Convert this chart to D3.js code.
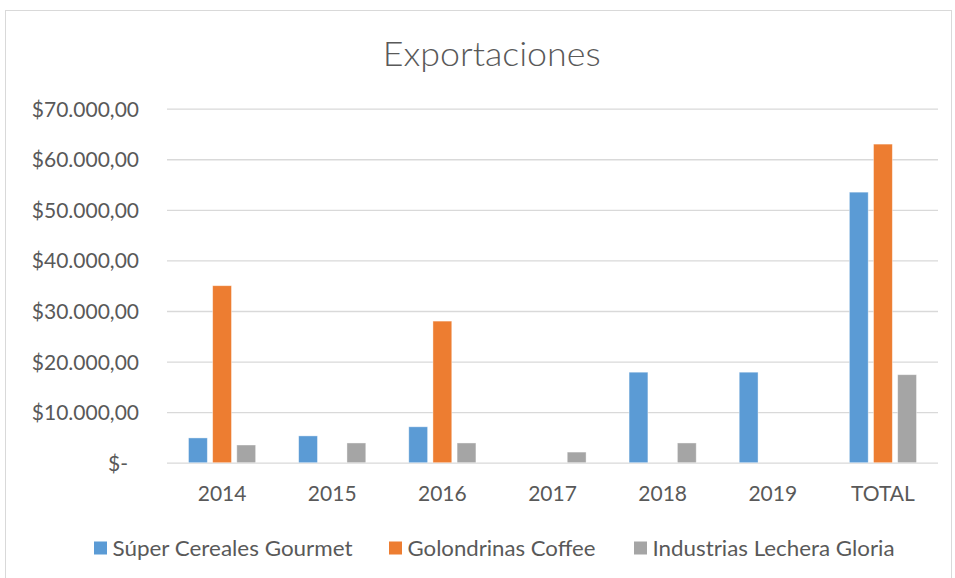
<!DOCTYPE html>
<html>
<head>
<meta charset="utf-8">
<script src="https://cdn.jsdelivr.net/npm/d3@7"></script>
<style>
  html, body { margin: 0; padding: 0; background: #fff; }
  svg { display: block; }
  text { font-family: Lato, "Open Sans", sans-serif; fill: #595959; }
</style>
</head>
<body>
<svg id="chart" width="955" height="578"></svg>
<script>
const categories = ["2014", "2015", "2016", "2017", "2018", "2019", "TOTAL"];
const seriesNames = ["Súper Cereales Gourmet", "Golondrinas Coffee", "Industrias Lechera Gloria"];
const cerealesValues = [4900, 5300, 7100, 0, 17900, 17900, 53500];
const golondrinasValues = [35000, 0, 28000, 0, 0, 0, 63000];
const gloriaValues = [3500, 3900, 3900, 2100, 3900, 0, 17400];
const yTickValues = [0, 10000, 20000, 30000, 40000, 50000, 60000, 70000];
const yTickLabels = ["$-", "$10.000,00", "$20.000,00", "$30.000,00", "$40.000,00", "$50.000,00", "$60.000,00", "$70.000,00"];
const colors = ["#5B9BD5", "#ED7D31", "#A5A5A5"];
const title = "Exportaciones";

const seriesValues = [cerealesValues, golondrinasValues, gloriaValues];
const svg = d3.select("#chart");

// chart frame
svg.append("rect").attr("x", 5.5).attr("y", 10.5).attr("width", 946).attr("height", 600)
  .attr("fill", "#fff").attr("stroke", "#d9d9d9").attr("stroke-width", 1);

const plot = { left: 167, right: 938, top: 108.7, bottom: 462.7 };

const x0 = d3.scaleBand().domain(categories).range([plot.left, plot.right]).paddingInner(0).paddingOuter(0);
const x1 = d3.scaleBand().domain(seriesNames).range([0, x0.bandwidth()]).paddingInner(0.22).paddingOuter(0.89);
const y = d3.scaleLinear().domain([0, 70000]).range([plot.bottom, plot.top]);

// gridlines
const yAxis = d3.axisLeft(y).tickValues(yTickValues)
  .tickSize(-(plot.right - plot.left))
  .tickFormat((d, i) => yTickLabels[i]);
const gy = svg.append("g").attr("transform", `translate(${plot.left},0)`).call(yAxis);
gy.select(".domain").remove();
gy.selectAll(".tick line").attr("stroke", "#d9d9d9").attr("stroke-width", 1.3);
gy.selectAll(".tick text")
  .attr("x", d => d === 0 ? -39 : -28)
  .attr("dy", "0.36em")
  .attr("font-size", 21)
  .attr("fill", "#595959")
  .style("font-family", "Lato, 'Open Sans', sans-serif");

// bars
const groups = svg.append("g").selectAll("g")
  .data(categories)
  .join("g")
  .attr("transform", d => `translate(${x0(d)},0)`);

groups.selectAll("rect")
  .data((c, ci) => seriesNames.map((s, si) => ({ s, si, v: seriesValues[si][ci] })))
  .join("rect")
  .filter(d => d.v > 0)
  .attr("x", d => x1(d.s))
  .attr("width", x1.bandwidth())
  .attr("y", d => y(d.v))
  .attr("height", d => y(0) - y(d.v))
  .attr("fill", d => colors[d.si])
  .attr("stroke", "#ffffff")
  .attr("stroke-opacity", 0.5)
  .attr("stroke-width", 0.8);

// x axis labels
const xAxis = d3.axisBottom(x0).tickSize(0).tickPadding(0);
const gx = svg.append("g").attr("transform", `translate(0,${plot.bottom})`).call(xAxis);
gx.select(".domain").remove();
gx.selectAll(".tick text")
  .attr("y", 38.8)
  .attr("dy", 0)
  .attr("font-size", 21)
  .attr("fill", "#595959")
  .style("font-family", "Lato, 'Open Sans', sans-serif");

// title
svg.append("text")
  .attr("x", 491.7).attr("y", 65.5)
  .attr("text-anchor", "middle")
  .attr("font-size", 33)
  .attr("font-weight", 300)
  .attr("textLength", 218)
  .attr("lengthAdjust", "spacingAndGlyphs")
  .text(title);

// legend
const legendMarkerX = [94, 389, 634];
const legendTextW = [240, 188, 242];
const lg = svg.append("g").selectAll("g").data(seriesNames).join("g")
  .attr("transform", (d, i) => `translate(${legendMarkerX[i]},0)`);
lg.append("rect").attr("x", 0).attr("y", 541.5).attr("width", 13).attr("height", 13)
  .attr("fill", (d, i) => colors[i]);
lg.append("text").attr("x", 18.5).attr("y", 556)
  .attr("font-size", 21)
  .attr("textLength", (d, i) => legendTextW[i])
  .attr("lengthAdjust", "spacingAndGlyphs")
  .text(d => d);
</script>
</body>
</html>
